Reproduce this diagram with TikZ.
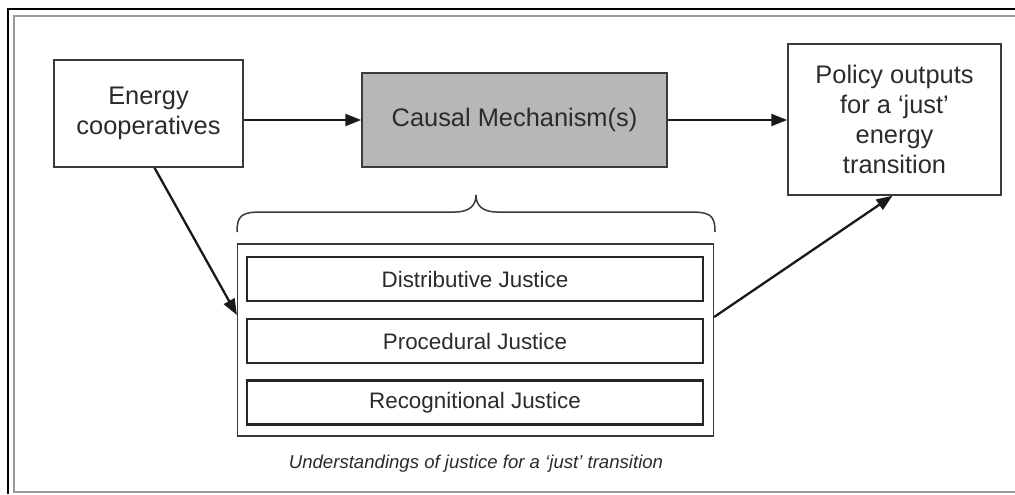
\documentclass[tikz,border=0pt]{standalone}
\usepackage{fontspec}
\setmainfont{Liberation Sans}
\usetikzlibrary{arrows.meta}
\definecolor{texto}{HTML}{2B2B2B}
\definecolor{linea}{HTML}{3A3A3A}
\definecolor{relleno}{HTML}{B7B7B7}
\definecolor{marco}{HTML}{9A9A9A}

\begin{document}
\begin{tikzpicture}[x=0.5pt, y=-0.5pt,
	caja/.style={draw=linea, line width=0.75pt, text=texto, align=center, font=\fontsize{12.7}{15}\selectfont},
	justicia/.style={draw=black!85, line width=1.25pt, text=texto, minimum width=228pt, minimum height=22pt, font=\fontsize{11.2}{13}\selectfont},
	flecha/.style={line width=1.15pt, black!90, -{Triangle[length=8pt,width=6pt]}}]
	
	\useasboundingbox (0,0) rectangle (1015,494);
	
	% Marcos
	\draw[line width=1pt] (1015,8.5) -- (8,8.5) -- (8,494);                         % Marco negro
	\draw[marco, line width=1pt] (1015,16) -- (14,16) -- (14,492) -- (1015,492);    % Marco gris
	
	% Cajas superiores
	\node[caja, minimum width=94.5pt, minimum height=53.5pt] (coop) at (148.5,113.5) {Energy\\cooperatives};
	\node[caja, fill=relleno, minimum width=152.5pt, minimum height=47pt] (meca) at (514.5,120) {Causal Mechanism(s)};
	\node[caja, minimum width=106.5pt, minimum height=75.5pt] (poli) at (894.5,119.5) {Policy outputs\\for a ‘just’\\energy\\transition};
	
	% Contenedor de justicia
	\node[draw=linea, line width=0.6pt, minimum width=238pt, minimum height=96pt] (cont) at (475.5,340) {};
	\node[justicia] (dist) at (475,279) {Distributive Justice};
	\node[justicia] (proc) at (475,341) {Procedural Justice};
	\node[justicia] (reco) at (475,402.5) {Recognitional Justice};
	\node[text=texto, font=\itshape\fontsize{9.3}{11}\selectfont] (leyenda) at (476,464) {Understandings of justice for a ‘just’ transition};
	
	% Llave
	\draw[linea, line width=0.75pt] (237,232) .. controls (237,215) and (242,212) .. (262,212) -- (455,212)
		.. controls (470,212) and (476,205) .. (476,195) .. controls (476,205) and (482,212) .. (497,212)
		-- (690,212) .. controls (710,212) and (715,215) .. (715,232);
	
	% Flechas
	\draw[flecha] (coop.east |- meca.west) -- (meca.west);
	\draw[flecha] (meca.east) -- (poli.west |- meca.east);
	\draw[flecha] ([xshift=3pt]coop.south) -- ([yshift=12.5pt]cont.west);
	\draw[flecha] ([yshift=11.5pt]cont.east) -- ([xshift=-1pt]poli.south);
	
\end{tikzpicture}
\end{document}
